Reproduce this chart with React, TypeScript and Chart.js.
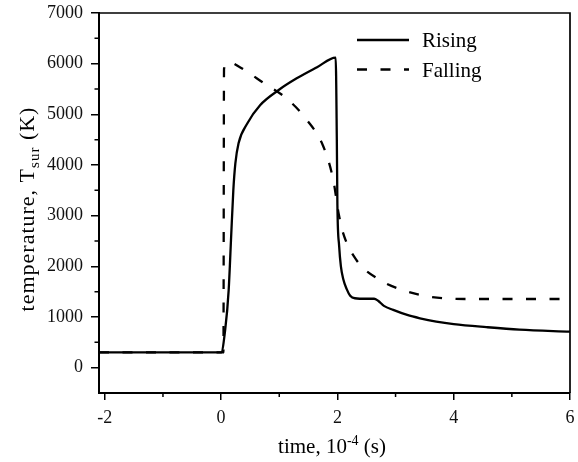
import React, { useEffect, useRef } from 'react';
import { Chart, registerables } from 'chart.js';

Chart.register(...registerables);

const seriesNames = ['Rising', 'Falling'];

const risingX = [-2.1, 0, 0.07, 0.13, 0.17, 0.21, 0.245, 0.3, 0.45, 0.67, 0.99, 1.3, 1.65, 1.97, 1.99, 2.0, 2.03, 2.06, 2.1, 2.16, 2.22, 2.3, 2.5, 2.63, 2.7, 2.8, 2.96, 3.2, 3.42, 3.7, 4.0, 4.56, 5.13, 6.0];
const risingY = [300, 300, 744, 1530, 2520, 3500, 4030, 4430, 4820, 5180, 5480, 5710, 5930, 6120, 4490, 3200, 2400, 2000, 1750, 1550, 1420, 1370, 1360, 1360, 1320, 1220, 1140, 1040, 975, 910, 860, 800, 750, 710];

const fallingX = [-2.1, 0.04, 0.05, 0.14, 0.33, 0.73, 1.13, 1.475, 1.76, 1.93, 2.02, 2.1, 2.33, 2.73, 3.13, 3.59, 4.28, 6.0];
const fallingY = [300, 300, 5900, 6030, 5925, 5620, 5310, 4890, 4360, 3700, 3050, 2650, 2120, 1730, 1530, 1400, 1355, 1355];

const xTickValues = [-2, 0, 2, 4, 6];
const xMinorTicks = [-1, 1, 3, 5];
const yTickValues = [0, 1000, 2000, 3000, 4000, 5000, 6000, 7000];
const yMinorTicks = [500, 1500, 2500, 3500, 4500, 5500, 6500];

const FONT = '"Liberation Serif", "Times New Roman", serif';

const decorPlugin = {
  id: 'decor',
  afterDraw(chart: any) {
    const { ctx, chartArea: a, scales } = chart;
    const xs = scales.x;
    const ys = scales.y;
    ctx.save();
    ctx.strokeStyle = '#000';
    ctx.fillStyle = '#000';
    // top and right frame
    ctx.lineWidth = 1.7;
    ctx.beginPath();
    ctx.moveTo(a.left, a.top);
    ctx.lineTo(a.right, a.top);
    ctx.lineTo(a.right, a.bottom);
    ctx.stroke();
    // minor ticks
    ctx.lineWidth = 1.5;
    ctx.beginPath();
    yMinorTicks.forEach((v) => {
      const p = ys.getPixelForValue(v);
      ctx.moveTo(a.left - 4.5, p);
      ctx.lineTo(a.left, p);
    });
    xMinorTicks.forEach((v) => {
      const p = xs.getPixelForValue(v);
      ctx.moveTo(p, a.bottom);
      ctx.lineTo(p, a.bottom + 4);
    });
    ctx.stroke();

    // x title: time, 10^-4 (s)
    ctx.textBaseline = 'alphabetic';
    ctx.textAlign = 'left';
    const big = `21px ${FONT}`;
    const small = `14px ${FONT}`;
    ctx.font = big;
    const p1 = 'time, 10';
    const p3 = ' (s)';
    const w1 = ctx.measureText(p1).width;
    const w3 = ctx.measureText(p3).width;
    ctx.font = small;
    const p2 = '-4';
    const w2 = ctx.measureText(p2).width;
    const total = w1 + w2 + w3;
    const x0 = 332 - total / 2;
    const by = 453;
    ctx.font = big;
    ctx.fillText(p1, x0, by);
    ctx.font = small;
    ctx.fillText(p2, x0 + w1, by - 8);
    ctx.font = big;
    ctx.fillText(p3, x0 + w1 + w2, by);

    // y title: temperature, T_sur (K)
    ctx.save();
    ctx.translate(34, 209);
    ctx.rotate(-Math.PI / 2);
    const yb = `22px ${FONT}`;
    const ysm = `15px ${FONT}`;
    (ctx as any).letterSpacing = '1px';
    ctx.font = yb;
    const q1 = 'temperature, T';
    const q3 = ' (K)';
    const v1 = ctx.measureText(q1).width;
    const v3 = ctx.measureText(q3).width;
    ctx.font = ysm;
    const q2 = 'sur';
    const v2 = ctx.measureText(q2).width;
    const tot = v1 + v2 + v3;
    const s0 = -tot / 2;
    ctx.font = yb;
    ctx.fillText(q1, s0, 0);
    ctx.font = ysm;
    ctx.fillText(q2, s0 + v1, 5);
    ctx.font = yb;
    ctx.fillText(q3, s0 + v1 + v2, 0);
    ctx.restore();

    // legend
    chart.data.datasets.forEach((ds: any, i: number) => {
      const ly = a.top + 27 + i * 29.5;
      ctx.setLineDash(ds.borderDash || []);
      ctx.lineWidth = 2.5;
      ctx.beginPath();
      ctx.moveTo(a.right - 213, ly);
      ctx.lineTo(a.right - 161, ly);
      ctx.stroke();
      ctx.setLineDash([]);
      ctx.font = `21px ${FONT}`;
      ctx.fillText(ds.label, a.right - 148, ly + 7);
    });
    ctx.restore();
  },
};

export default function App() {
  const ref = useRef<HTMLCanvasElement | null>(null);
  useEffect(() => {
    if (!ref.current) return;
    const chart = new Chart(ref.current, {
      type: 'line',
      data: {
        datasets: [
          {
            label: seriesNames[0],
            data: risingX.map((x, i) => ({ x, y: risingY[i] })),
            borderColor: '#000',
            borderWidth: 2.3,
            pointRadius: 0,
            cubicInterpolationMode: 'monotone',
            fill: false,
          },
          {
            label: seriesNames[1],
            data: fallingX.map((x, i) => ({ x, y: fallingY[i] })),
            borderColor: '#000',
            borderWidth: 2.3,
            borderDash: [10, 13.5],
            pointRadius: 0,
            cubicInterpolationMode: 'monotone',
            fill: false,
          },
        ],
      },
      options: {
        responsive: false,
        animation: false,
        layout: { padding: { left: 0, right: 8, top: 13, bottom: 0 } },
        plugins: { legend: { display: false }, tooltip: { enabled: false } },
        scales: {
          x: {
            type: 'linear',
            min: -2.1,
            max: 6,
            afterBuildTicks: (s: any) => {
              s.ticks = xTickValues.map((v) => ({ value: v }));
            },
            afterFit: (s: any) => {
              s.height = 69;
              s.paddingLeft = 0;
              s.paddingRight = 0;
            },
            grid: { drawOnChartArea: false, drawTicks: true, tickLength: 7, color: '#000', lineWidth: 1.5 },
            border: { display: true, color: '#000', width: 2 },
            ticks: {
              color: '#111',
              font: { family: FONT, size: 18 },
              padding: 7,
              maxRotation: 0,
              callback: (v: any) => String(v),
            },
          },
          y: {
            type: 'linear',
            min: -500,
            max: 7000,
            afterBuildTicks: (s: any) => {
              s.ticks = yTickValues.map((v) => ({ value: v }));
            },
            afterFit: (s: any) => {
              s.width = 99;
              s.paddingTop = 0;
              s.paddingBottom = 0;
            },
            grid: { drawOnChartArea: false, drawTicks: true, tickLength: 8, color: '#000', lineWidth: 1.5 },
            border: { display: true, color: '#000', width: 2 },
            ticks: {
              color: '#111',
              font: { family: FONT, size: 18 },
              padding: 8,
              callback: (v: any) => String(v),
            },
          },
        },
      },
      plugins: [decorPlugin],
    } as any);
    return () => chart.destroy();
  }, []);
  return (
    <div style={{ position: 'absolute', left: 0, top: 0, width: 578, height: 462, background: '#fff' }}>
      <canvas ref={ref} width={578} height={462} style={{ display: 'block' }} />
    </div>
  );
}
